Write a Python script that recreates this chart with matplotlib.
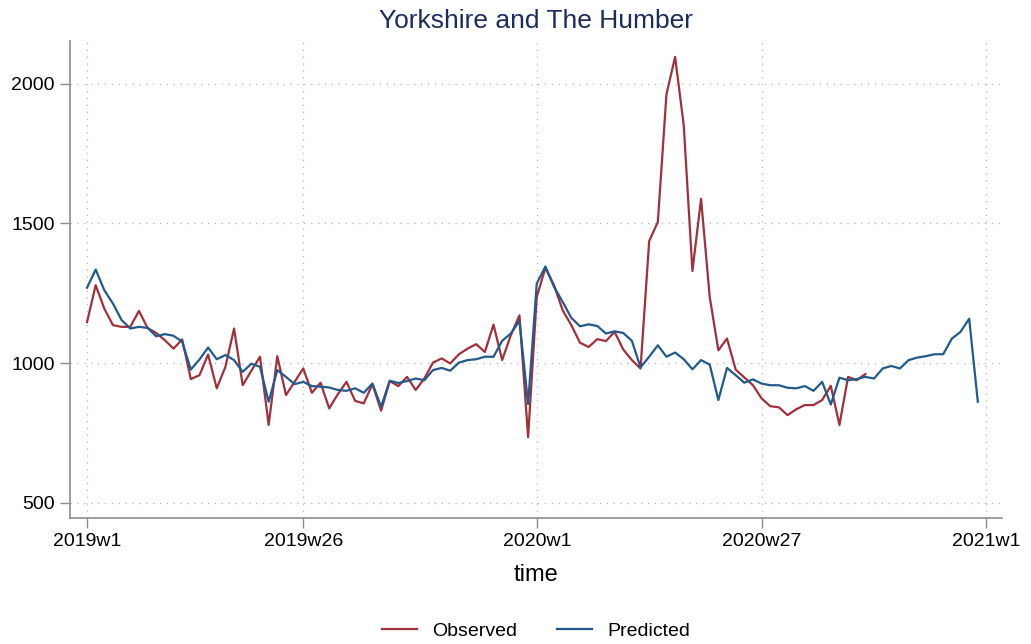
import numpy as np
import matplotlib
matplotlib.use('Agg')
import matplotlib.pyplot as plt

plt.rcParams['font.family'] = ['Liberation Sans', 'DejaVu Sans']

# 周数据：第0周 = 2019w1
observed = [1147, 1279, 1195, 1136, 1130, 1130, 1187, 1126, 1108, 1082,
            1052, 1085, 943, 957, 1031, 910, 987, 1124, 921, 973,
            1023, 779, 1025, 886, 933, 981, 894, 930, 838, 889,
            933, 865, 856, 925, 830, 936, 918, 951, 904, 945,
            1002, 1017, 999, 1032, 1052, 1068, 1040, 1138, 1011, 1100,
            1171, 735, 1237, 1341, 1279, 1189, 1136, 1073, 1058, 1086,
            1079, 1112, 1049, 1011, 981, 1437, 1505, 1963, 2096, 1850,
            1330, 1588, 1237, 1046, 1088, 977, 949, 921, 874, 846,
            842, 814, 835, 850, 850, 868, 919, 779, 951, 939,
            961]

predicted = [1270, 1335, 1261, 1213, 1154, 1124, 1130, 1126, 1096, 1104,
             1098, 1077, 977, 1013, 1056, 1014, 1029, 1011, 969, 998,
             987, 862, 975, 951, 925, 933, 918, 916, 913, 904,
             901, 910, 894, 927, 844, 937, 929, 936, 945, 939,
             975, 983, 973, 1002, 1011, 1014, 1023, 1023, 1080, 1106,
             1151, 854, 1285, 1346, 1273, 1219, 1162, 1132, 1139, 1133,
             1106, 1114, 1108, 1080, 985, 1023, 1064, 1023, 1038, 1014,
             978, 1011, 995, 868, 983, 957, 930, 942, 927, 921,
             921, 912, 910, 918, 901, 933, 852, 948, 939, 943,
             951, 945, 981, 990, 981, 1011, 1020, 1025, 1032, 1032,
             1088, 1112, 1159, 862]

tick_weeks = [0, 25, 52, 78, 104]
tick_labels = ['2019w1', '2019w26', '2020w1', '2020w27', '2021w1']
y_ticks = [500, 1000, 1500, 2000]

red = '#a0303c'
blue = '#225a8c'
grey = '#8c8c8c'

fig = plt.figure(figsize=(10.31, 6.44), dpi=100)
ax = fig.add_axes([0.0679, 0.1957, 0.9040, 0.7411])

ax.plot(np.arange(len(observed)), observed, color=red, lw=1.6, label='Observed')
ax.plot(np.arange(len(predicted)), predicted, color=blue, lw=1.6, label='Predicted')

ax.set_xlim(-1.97, 105.8)
ax.set_ylim(446, 2154)
ax.set_xticks(tick_weeks)
ax.set_xticklabels(tick_labels)
ax.set_yticks(y_ticks)

ax.grid(True, color='#b4b4b4', lw=0.9, linestyle=(0, (1, 4.5)))
ax.set_axisbelow(True)
for s in ['top', 'right']:
    ax.spines[s].set_visible(False)
for s in ['left', 'bottom']:
    ax.spines[s].set_color(grey)
    ax.spines[s].set_linewidth(1.2)
ax.tick_params(axis='both', colors=grey, length=7, width=1.0, labelsize=14,
               labelcolor='black', pad=4)

ax.set_title('Yorkshire and The Humber', fontsize=19, color='#1c2d5c', pad=9)
ax.set_xlabel('time', fontsize=17, labelpad=10)

fig.legend(loc='center', bbox_to_anchor=(536 / 1031, 1 - 631 / 644), ncol=2,
           frameon=False, fontsize=14, handlelength=1.8, handletextpad=0.8,
           columnspacing=2.0)

fig.savefig('out.png', dpi=100)
